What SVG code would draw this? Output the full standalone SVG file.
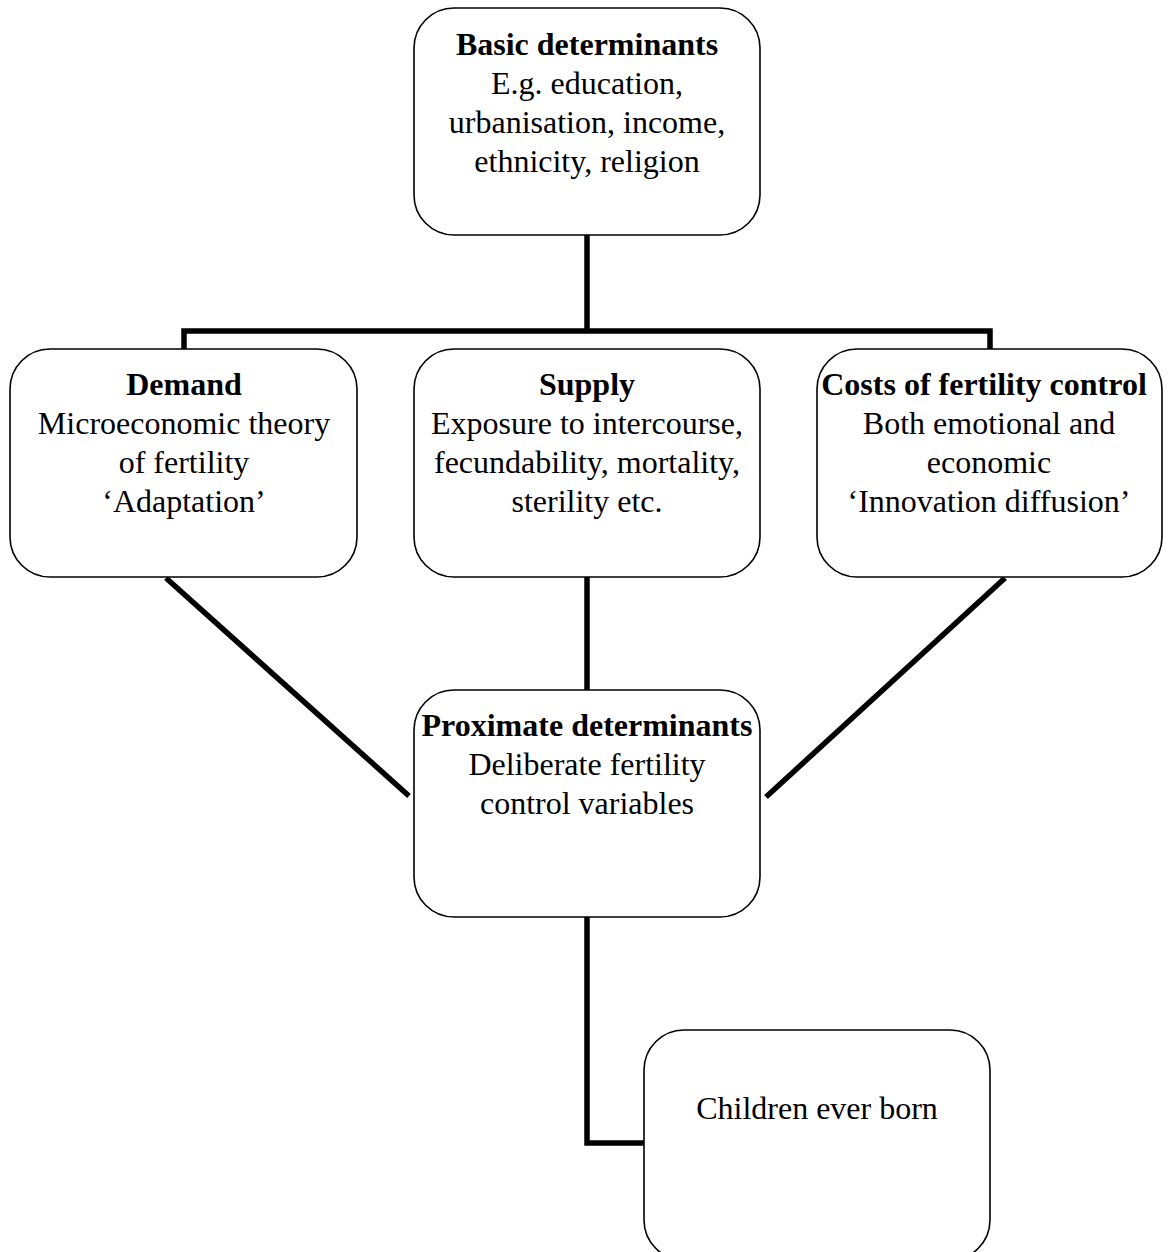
<svg xmlns="http://www.w3.org/2000/svg" width="1168" height="1252" viewBox="0 0 1168 1252">
<style>
.box{fill:#fff;stroke:#000;stroke-width:1.6}
.conn{fill:none;stroke:#000;stroke-width:5.5;stroke-linejoin:miter;stroke-linecap:butt}
text{font-family:"Liberation Serif","Times New Roman",serif;font-size:32px;fill:#000;text-anchor:middle}
.b{font-weight:bold}
</style>
<rect width="1168" height="1252" fill="#fff"/>
<g id="connectors">
<path class="conn" d="M587,235 V331"/>
<path class="conn" d="M184,349 V331 H990 V349"/>
<path class="conn" d="M587,577 V690"/>
<path class="conn" d="M166,578 L409,796"/>
<path class="conn" d="M1005,578 L766,797"/>
<path class="conn" d="M587,917 V1143 H644"/>
</g>
<g id="basic">
<rect class="box" x="414" y="8" width="346" height="227" rx="40"/>
<text x="587" y="55" class="b">Basic determinants</text>
<text x="587" y="94">E.g. education,</text>
<text x="587" y="133">urbanisation, income,</text>
<text x="587" y="172">ethnicity, religion</text>
</g>
<g id="demand">
<rect class="box" x="10" y="349" width="347" height="228" rx="40"/>
<text x="184" y="395" class="b">Demand</text>
<text x="184" y="434">Microeconomic theory</text>
<text x="184" y="473">of fertility</text>
<text x="184" y="512">‘Adaptation’</text>
</g>
<g id="supply">
<rect class="box" x="414" y="349" width="346" height="228" rx="40"/>
<text x="587" y="395" class="b">Supply</text>
<text x="587" y="434">Exposure to intercourse,</text>
<text x="587" y="473">fecundability, mortality,</text>
<text x="587" y="512">sterility etc.</text>
</g>
<g id="costs">
<rect class="box" x="817" y="349" width="345" height="228" rx="40"/>
<text x="984" y="395" class="b">Costs of fertility control</text>
<text x="989" y="434">Both emotional and</text>
<text x="989" y="473">economic</text>
<text x="989" y="512">‘Innovation diffusion’</text>
</g>
<g id="proximate">
<rect class="box" x="414" y="690" width="346" height="227" rx="40"/>
<text x="587" y="736" class="b">Proximate determinants</text>
<text x="587" y="775">Deliberate fertility</text>
<text x="587" y="814">control variables</text>
</g>
<g id="children">
<rect class="box" x="644" y="1030" width="346" height="230" rx="40"/>
<text x="817" y="1119">Children ever born</text>
</g>
</svg>
